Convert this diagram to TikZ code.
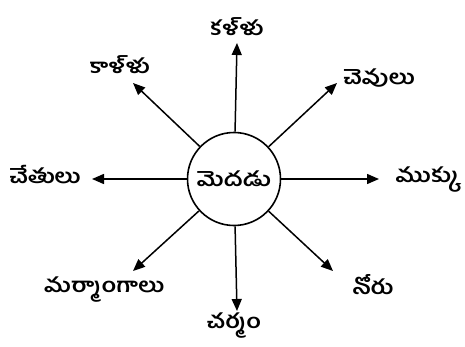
\documentclass[tikz,border=0pt]{standalone}
\usepackage{fontspec}
\newfontfamily\telugu[Script=Telugu, FakeStretch=1.2]{Hind Guntur}
\usetikzlibrary{arrows.meta}

\begin{document}
\begin{tikzpicture}[x=1pt,y=1pt,
    organ/.style={font=\telugu\bfseries\fontsize{20}{24}\selectfont, inner sep=1pt},
    nerve/.style={line width=1.5pt, -{Triangle[length=12pt,width=10pt]}}]
        \useasboundingbox (0,0) rectangle (465,346);

        % brain in the middle
        \node[circle, draw, line width=1.6pt, minimum size=93pt, inner sep=0pt, organ] (brain) at (234,167) {మెదడు};

        % arrow tips
        \coordinate (tipN)  at (237,303);
        \coordinate (tipNE) at (337,263);
        \coordinate (tipE)  at (379,167);
        \coordinate (tipSE) at (333,75);
        \coordinate (tipS)  at (237,35);
        \coordinate (tipSW) at (133,75);
        \coordinate (tipW)  at (92,167);
        \coordinate (tipNW) at (133,263);

        \foreach \t in {N,NE,E,SE,S,SW,W,NW}
            \draw[nerve] (brain) -- (tip\t);

        % organs
        \node[organ] (eyes)    at (237,319) {కళ్ళు};
        \node[organ] (ears)    at (379,268) {చెవులు};
        \node[organ] (nose)    at (428,166) {ముక్కు};
        \node[organ] (mouth)   at (373,61)  {నోరు};
        \node[organ] (skin)    at (234,20)  {చర్మం};
        \node[organ] (genital) at (104,56)  {మర్మాంగాలు};
        \node[organ] (hands)   at (45,171)  {చేతులు};
        \node[organ] (legs)    at (120,281) {కాళ్ళు};
    \end{tikzpicture}
\end{document}
